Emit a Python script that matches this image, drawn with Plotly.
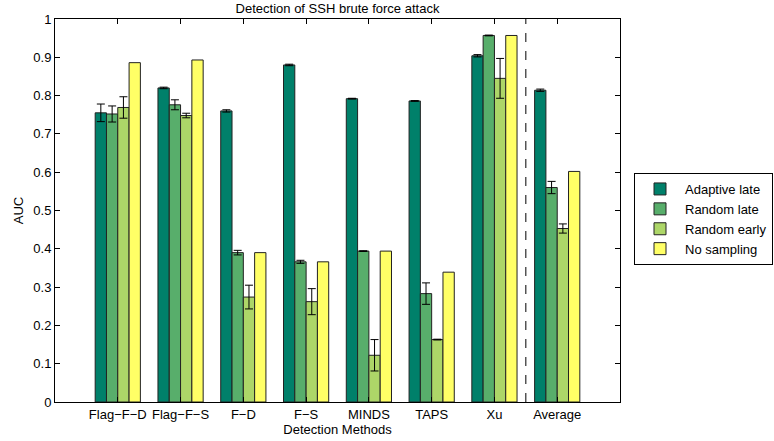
import plotly.graph_objects as go

categories = ["Flag\u2212F\u2212D", "Flag\u2212F\u2212S", "F\u2212D", "F\u2212S", "MINDS", "TAPS", "Xu", "Average"]
series_names = ["Adaptive late", "Random late", "Random early", "No sampling"]

adaptive_late = [0.755, 0.820, 0.760, 0.880, 0.792, 0.786, 0.904, 0.814]
adaptive_late_err = [0.023, 0.002, 0.003, 0.002, 0.001, 0.001, 0.003, 0.003]
random_late = [0.752, 0.776, 0.390, 0.366, 0.394, 0.283, 0.957, 0.560]
random_late_err = [0.021, 0.013, 0.006, 0.004, 0.001, 0.028, 0.001, 0.016]
random_early = [0.769, 0.748, 0.274, 0.262, 0.122, 0.163, 0.845, 0.453]
random_early_err = [0.028, 0.006, 0.031, 0.034, 0.041, 0.001, 0.052, 0.012]
no_sampling = [0.886, 0.893, 0.390, 0.366, 0.394, 0.339, 0.957, 0.602]

colors = ["#00806A", "#58AE6B", "#ADD668", "#FFFF66"]
values = [adaptive_late, random_late, random_early, no_sampling]
errors = [adaptive_late_err, random_late_err, random_early_err, None]

fig = go.Figure()
for name, vals, err, col in zip(series_names, values, errors, colors):
    kw = {}
    if err is not None:
        kw["error_y"] = dict(type="data", array=err, visible=True, color="black", thickness=1, width=4)
    fig.add_trace(go.Bar(
        x=categories, y=vals, name=name,
        marker=dict(color=col, line=dict(color="#222222", width=1)),
        **kw
    ))

font_family = "Liberation Sans, Arial, Helvetica, sans-serif"
fig.update_layout(
    width=774, height=441,
    margin=dict(l=55, r=154, t=19, b=39),
    barmode="group", bargap=0.28, bargroupgap=0,
    plot_bgcolor="white", paper_bgcolor="white",
    font=dict(family=font_family, size=13, color="black"),
    title=dict(text="Detection of SSH brute force attack", x=(55 + 620) / 2 / 774, xanchor="center",
               y=1 - 8 / 441, yanchor="middle", font=dict(size=13)),
    legend=dict(xref="container", yref="container", x=634 / 774, y=1 - 173 / 441,
                xanchor="left", yanchor="top",
                bordercolor="black", borderwidth=1, bgcolor="white",
                font=dict(size=13), traceorder="normal", itemwidth=40),
    xaxis=dict(range=[-1, 8], showline=True, linecolor="black", linewidth=1, mirror="ticks",
               ticks="inside", ticklen=5, tickcolor="black", showgrid=False, automargin=False,
               title=dict(text="Detection Methods", standoff=0, font=dict(size=13))),
    yaxis=dict(range=[0, 1], dtick=0.1, showline=True, linecolor="black", linewidth=1, mirror="ticks",
               ticks="inside", ticklen=5, tickcolor="black", showgrid=False, zeroline=False,
               automargin=False,
               title=dict(text="AUC", standoff=6, font=dict(size=13))),
)
fig.add_shape(type="line", xref="x", yref="y", x0=6.5, x1=6.5, y0=0, y1=1,
              line=dict(color="black", width=1, dash="dash"))

fig.write_html("out.html")
